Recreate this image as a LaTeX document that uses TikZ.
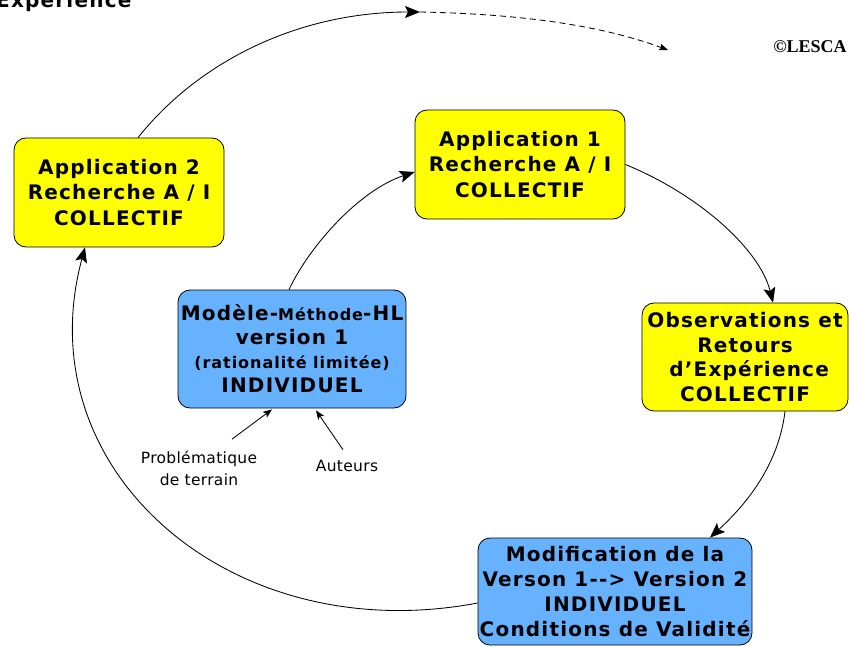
\documentclass[tikz,border=0pt]{standalone}
\usepackage{fontspec}
\setmainfont{DejaVu Sans}[LetterSpace=6]
\newfontfamily\labfont{DejaVu Sans}[LetterSpace=2]
\newfontfamily\timesf{Liberation Serif}
\usetikzlibrary{arrows.meta,calc}
\definecolor{boxyellow}{RGB}{255,255,0}
\definecolor{boxblue}{RGB}{102,178,255}
\begin{document}
\begin{tikzpicture}[x=1pt,y=1pt,
  box/.style={draw=black, line width=0.8pt, rounded corners=12pt, align=center,
    inner sep=0pt, font=\bfseries\fontsize{20}{25.5}\selectfont},
  ybox/.style={box, fill=boxyellow},
  bbox/.style={box, fill=boxblue},
  arr/.style={-{Stealth[length=15pt,width=12pt,inset=3pt]}, line width=0.85pt},
  smallarr/.style={-{Stealth[length=9pt,width=7pt,inset=2pt]}, line width=0.85pt},
  lab/.style={align=center, font=\labfont\fontsize{15.5}{22}\selectfont}
]
\useasboundingbox (0,0) rectangle (849,-647);
\clip (0,0) rectangle (849,-647);

\node[ybox, minimum width=210pt, minimum height=109pt] (app2) at (119,-192.5)
  {Application 2\\Recherche A / I\\COLLECTIF};
\node[ybox, minimum width=210pt, minimum height=109pt] (app1) at (520,-164.5)
  {Application 1\\Recherche A / I\\COLLECTIF};
\node[ybox, minimum width=206pt, minimum height=108pt, font=\bfseries\fontsize{20}{24.5}\selectfont] (obs) at (745,-357)
  {Observations et\\Retours\\\ d’Expérience\\COLLECTIF};
\node[bbox, minimum width=274pt, minimum height=107pt, font=\bfseries\fontsize{20}{25}\selectfont] (modif) at (615,-591.5)
  {Modification de la\\Verson 1-{}-> Version 2\\INDIVIDUEL\\Conditions de Validité};
\node[bbox, minimum width=228pt, minimum height=118pt, font=\bfseries\fontsize{20}{24}\selectfont] (model) at (292,-349)
  {Modèle-{\fontsize{16}{24}\selectfont Méthode}-HL\\version 1\\{\fontsize{16}{22}\selectfont (rationalité limitée)}\\INDIVIDUEL};

\node[anchor=base west, font=\bfseries\fontsize{20}{24}\selectfont, inner sep=0pt] (exp) at (-4,-8) {Expérience};
\node[font=\timesf\bfseries\fontsize{18}{20}\selectfont, inner sep=0pt] (copy) at (810,-47) {©LESCA};

\node[lab] (prob) at (199,-468) {Problématique\\de terrain};
\node[lab] (aut) at (347,-466) {Auteurs};

\coordinate (top) at (420,-12);
\coordinate (dashend) at (668,-50);

% cycle arrows
\draw[arr] ($(model.north)+(-3,0)$) .. controls (310,-245) and (360,-190) .. ($(app1.west)+(0,-7.5)$);
\draw[arr] (app1.east) .. controls (700,-195) and (760,-250) .. ($(obs.north)+(28,0)$);
\draw[arr] ($(obs.south)+(40,0)$) .. controls (778,-470) and (740,-510) .. ($(modif.north)+(95,0)$);
\draw[arr] ($(modif.west)+(0,-11.5)$) .. controls (230,-650) and (25,-470) .. ($(app2.south)+(-34,0)$);
\draw[arr] ($(app2.north)+(19,0)$) .. controls (200,-60) and (300,-12) .. (top);
\draw[smallarr, dashed, dash pattern=on 6pt off 4pt] (top) .. controls (520,-14) and (600,-25) .. (dashend);

% label arrows
\draw[smallarr] ($(prob.north)+(33,8)$) -- ($(model.south)+(-20,-1)$);
\draw[smallarr] ($(aut.north)+(-4,7)$) -- ($(model.south)+(24,-2)$);
\end{tikzpicture}
\end{document}
